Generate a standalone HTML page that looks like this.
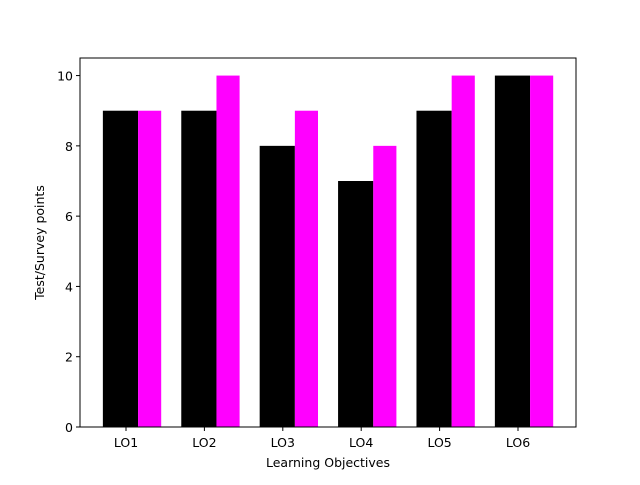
<!DOCTYPE html>
<html><head><meta charset="utf-8"><style>body{margin:0;background:#fff}svg text{font-family:"DejaVu Sans","Liberation Sans",sans-serif;font-size:12.5px;fill:#000}</style></head>
<body>
<svg id="c" width="640" height="480"></svg>
<script>
const categories=["LO1","LO2","LO3","LO4","LO5","LO6"];
const testValues=[9,9,8,7,9,10];
const surveyValues=[9,10,9,8,10,10];
const yTicks=[0,2,4,6,8,10];
const svg=document.getElementById('c');
const NS='http://www.w3.org/2000/svg';
const L=80,R=576,T=58,B=427;
const xs=v=>126+v*78.4;
const ys=v=>B-(B-T)*v/10.5;
function mk(t,a,p){const e=document.createElementNS(NS,t);for(const k in a)e.setAttribute(k,a[k]);(p||svg).appendChild(e);return e;}
categories.forEach((c,i)=>{
 const b=mk('rect',{x:xs(i-0.295),y:ys(testValues[i]),width:xs(i+0.154)-xs(i-0.295),height:B-ys(testValues[i]),fill:'#000'});
 
 
 const m=mk('rect',{x:xs(i+0.154),y:ys(surveyValues[i]),width:xs(i+0.449)-xs(i+0.154),height:B-ys(surveyValues[i]),fill:'#ff00ff'});
 
 
 mk('line',{x1:xs(i),x2:xs(i),y1:B,y2:B+4,stroke:'#000'});
 const t=mk('text',{x:xs(i),y:B+20,'text-anchor':'middle'});t.textContent=c;
 
 
});
yTicks.forEach(v=>{
 mk('line',{x1:L-4,x2:L,y1:ys(v),y2:ys(v),stroke:'#000'});
 const t=mk('text',{x:L-7,y:ys(v)+5,'text-anchor':'end'});t.textContent=v;
 
 
});
const f=mk('rect',{x:L,y:T,width:R-L,height:B-T,fill:'none',stroke:'#000','stroke-width':1});


const xt=mk('text',{x:(L+R)/2,y:467,'text-anchor':'middle'});xt.textContent='Learning Objectives';


const yt=mk('text',{x:44,y:(T+B)/2,'text-anchor':'middle',transform:'rotate(-90 44 '+((T+B)/2)+')'});yt.textContent='Test/Survey points';


</script>
</body></html>
